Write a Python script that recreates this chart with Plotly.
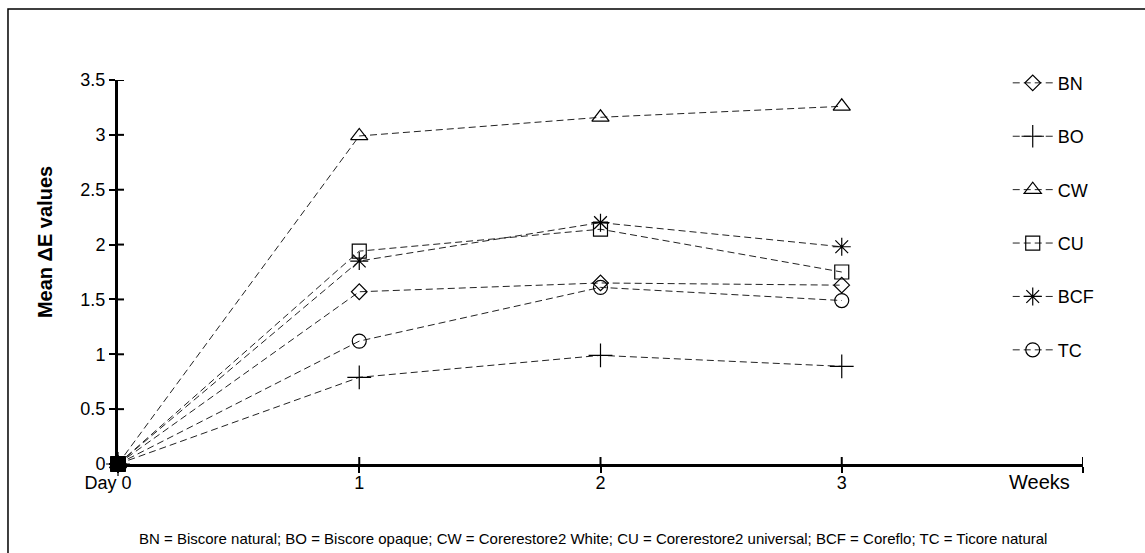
import plotly.graph_objects as go

# Colour change over time for six core build-up materials
time_points = [0, 1, 2, 3]
x_tick_vals = [0, 1, 2, 3, 4]
x_tick_text = ["Day 0\u00a0\u00a0\u00a0\u00a0", "1", "2", "3", ""]
y_tick_vals = [0, 0.5, 1, 1.5, 2, 2.5, 3, 3.5]
y_tick_text = ["0", "0.5", "1", "1.5", "2", "2.5", "3", "3.5"]

series_names = ["BN", "BO", "CW", "CU", "BCF", "TC"]
bn = [0, 1.57, 1.65, 1.63]
bo = [0, 0.79, 0.99, 0.89]
cw = [0, 2.99, 3.16, 3.26]
cu = [0, 1.94, 2.14, 1.75]
bcf = [0, 1.85, 2.20, 1.98]
tc = [0, 1.12, 1.61, 1.49]
series_values = [bn, bo, cw, cu, bcf, tc]
series_symbols = ["diamond-open", "cross-thin-open", "triangle-up-open",
                  "square-open", "asterisk-open", "circle-open"]
series_sizes = [12, 17, 15, 14, 15, 14]

footnote = ("BN = Biscore natural; BO = Biscore opaque; CW = Corerestore2 White; "
            "CU = Corerestore2 universal; BCF = Coreflo; TC = Ticore natural")

FONT = "Arial, Liberation Sans, sans-serif"

fig = go.Figure()

for name, vals, sym, size in zip(series_names, series_values, series_symbols, series_sizes):
    fig.add_trace(go.Scatter(
        x=time_points, y=vals, name=name, mode="lines+markers",
        legendgroup=name,
        line=dict(color="#222222", width=1, dash="7px,4px"),
        marker=dict(symbol=sym, size=size, color="black",
                    line=dict(color="black", width=1.2)),
        cliponaxis=False,
    ))

# the shared Day 0 readings overlap into one solid block
for name, vals in zip(series_names, series_values):
    fig.add_trace(go.Scatter(
        x=time_points[:1], y=vals[:1], mode="markers", legendgroup=name,
        showlegend=False, hoverinfo="skip", cliponaxis=False,
        marker=dict(symbol="square", size=15, color="black"),
    ))

# tick marks that cross the axis lines on both sides
tick_shapes = []
for v in y_tick_vals[1:]:
    tick_shapes.append(dict(type="line", xref="x", yref="y",
                            xsizemode="pixel", xanchor=0, x0=-6, x1=6,
                            y0=v, y1=v, line=dict(color="black", width=2),
                            layer="above"))
for v in x_tick_vals[1:]:
    tick_shapes.append(dict(type="line", xref="x", yref="y",
                            ysizemode="pixel", yanchor=0, y0=-6, y1=7,
                            x0=v, x1=v, line=dict(color="black", width=2),
                            layer="above"))

frame = dict(type="rect", xref="paper", yref="paper",
             x0=-0.114, x1=1.2, y0=-0.6, y1=1.185,
             line=dict(color="black", width=1.5), layer="below")

fig.update_layout(
    width=1145, height=553,
    margin=dict(l=118, r=62, t=80, b=89),
    paper_bgcolor="white", plot_bgcolor="white",
    font=dict(family=FONT, color="black", size=18),
    xaxis=dict(range=[0, 4], tickvals=x_tick_vals, ticktext=x_tick_text,
               showgrid=False, zeroline=False, showline=True,
               linecolor="black", linewidth=3,
               ticks="outside", ticklen=6, tickwidth=2, tickcolor="black",
               ticklabelstandoff=-6,
               tickfont=dict(size=18, family=FONT)),
    yaxis=dict(range=[0, 3.5], tickvals=y_tick_vals, ticktext=y_tick_text,
               showgrid=False, zeroline=False, showline=True,
               linecolor="black", linewidth=3,
               ticks="outside", ticklen=6, tickwidth=2, tickcolor="black",
               tickfont=dict(size=18, family=FONT)),
    legend=dict(x=0.922, y=1.04, xanchor="left", yanchor="top",
                tracegroupgap=27, font=dict(size=18, family=FONT),
                bgcolor="rgba(0,0,0,0)", itemwidth=40, maxheight=420),
    showlegend=True,
    annotations=[
        dict(text="<b>Mean ΔE values</b>", textangle=-90, x=-0.0756, y=0.578,
             xref="paper", yref="paper", showarrow=False,
             xanchor="center", yanchor="middle",
             font=dict(size=20, family=FONT)),
        dict(text="Weeks", x=0.955, y=-0.047, xref="paper", yref="paper",
             showarrow=False, xanchor="center", yanchor="middle",
             font=dict(size=20, family=FONT)),
        dict(text=footnote, x=0.492, y=-0.195, xref="paper", yref="paper",
             showarrow=False, xanchor="center", yanchor="middle",
             font=dict(size=15, family=FONT)),
    ],
    shapes=[frame] + tick_shapes,
)

fig.write_html("out.html")
